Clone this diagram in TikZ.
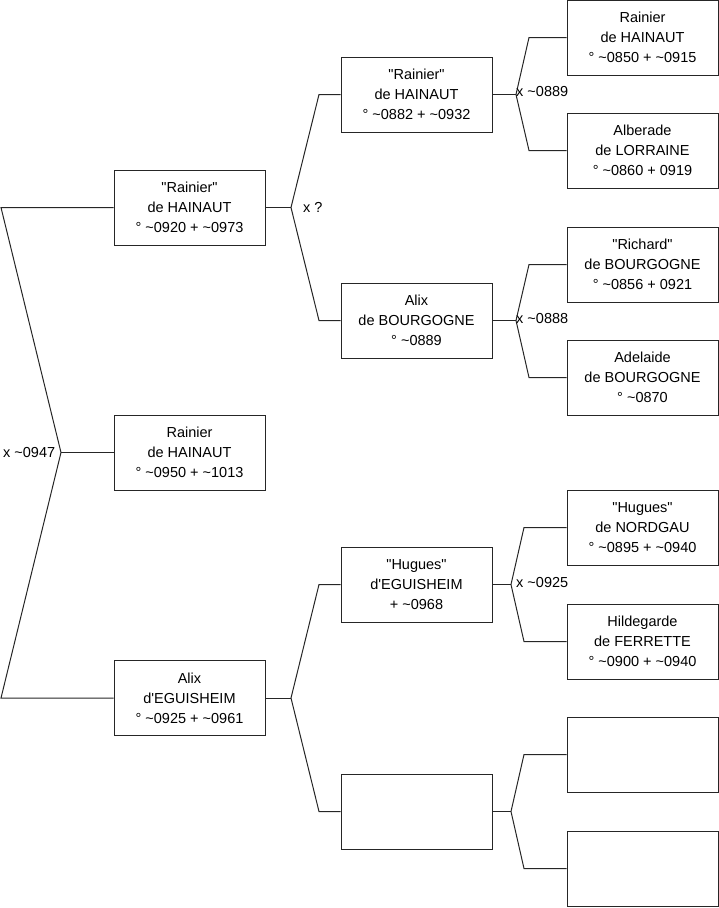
\documentclass[tikz,border=0pt]{standalone}
\usepackage{fontspec}
\setmainfont{Liberation Sans}
\usetikzlibrary{positioning}

\tikzset{
  person/.style={draw=black!85, line width=1pt, minimum width=151pt, minimum height=75pt,
    inner sep=0pt, align=center, font=\fontsize{14.5}{20}\selectfont},
  link/.style={draw=black!85, line width=1pt},
  mariage/.style={anchor=west, inner sep=0pt, font=\fontsize{14.5}{20}\selectfont}
}

\begin{document}
\begin{tikzpicture}[x=1pt, y=-1pt]

\useasboundingbox (0,0) rectangle (719,908);

%---------------------------------------
% Columns
%---------------------------------------
\def\colA{189.5}
\def\colB{416.5}
\def\colC{642.5}
\def\q{\textquotedbl}
\def\ap{\textquotesingle}

%====================================================
% Generation 1
%====================================================
\node[person] (rainierA) at (\colA,207.5) {\q Rainier\q\\de HAINAUT\\° \textasciitilde0920 + \textasciitilde0973};
\node[person] (rainierB) at (\colA,452.5) {Rainier\\de HAINAUT\\° \textasciitilde0950 + \textasciitilde1013};
\node[person] (alixA)    at (\colA,698)   {Alix\\d\ap EGUISHEIM\\° \textasciitilde0925 + \textasciitilde0961};

%====================================================
% Generation 2
%====================================================
\node[person] (rainierC) at (\colB,94.5)  {\q Rainier\q\\de HAINAUT\\° \textasciitilde0882 + \textasciitilde0932};
\node[person] (alixB)    at (\colB,320.5) {Alix\\de BOURGOGNE\\° \textasciitilde0889};
\node[person] (huguesA)  at (\colB,584.5) {\q Hugues\q\\d\ap EGUISHEIM\\+ \textasciitilde0968};
\node[person] (inconnuA) at (\colB,811.5) {};

%====================================================
% Generation 3
%====================================================
\node[person] (rainierD)   at (\colC,37.5)  {Rainier\\de HAINAUT\\° \textasciitilde0850 + \textasciitilde0915};
\node[person] (alberade)   at (\colC,150.5) {Alberade\\de LORRAINE\\° \textasciitilde0860 + 0919};
\node[person] (richard)    at (\colC,264.5) {\q Richard\q\\de BOURGOGNE\\° \textasciitilde0856 + 0921};
\node[person] (adelaide)   at (\colC,377.5) {Adelaide\\de BOURGOGNE\\° \textasciitilde0870};
\node[person] (huguesB)    at (\colC,527.5) {\q Hugues\q\\de NORDGAU\\° \textasciitilde0895 + \textasciitilde0940};
\node[person] (hildegarde) at (\colC,641.5) {Hildegarde\\de FERRETTE\\° \textasciitilde0900 + \textasciitilde0940};
\node[person] (inconnuB)   at (\colC,754.5) {};
\node[person] (inconnuC)   at (\colC,868.5) {};

%---------------------------------------
% Couple of rainierB
%---------------------------------------
\coordinate (j0) at (61,452.5);
\coordinate (t0) at (1,207.5);
\coordinate (b0) at (1,698);
\draw[link] (rainierA.west) -- (t0) -- (j0) -- (b0) -- (alixA.west);
\draw[link] (j0) -- (rainierB.west);
\node[mariage] (x0) at (3,452.5) {x \textasciitilde0947};

% ---- couple of rainierA ----
\coordinate (j1) at (291,207.5);
\coordinate (t1) at (319,94.5);
\coordinate (b1) at (319,320.5);
\draw[link] (rainierA.east) -- (j1);
\draw[link] (rainierC.west) -- (t1) -- (j1) -- (b1) -- (alixB.west);
\node[mariage] (x1) at (303,207.5) {x ?};

% ---- couple of alixA ----
\coordinate (j2) at (291,698);
\coordinate (t2) at (319,584.5);
\coordinate (b2) at (319,811.5);
\draw[link] (alixA.east) -- (j2);
\draw[link] (huguesA.west) -- (t2) -- (j2) -- (b2) -- (inconnuA.west);

% ---- couple of rainierC ----
\coordinate (j3) at (516,94.5);
\coordinate (t3) at (529,37.5);
\coordinate (b3) at (529,150.5);
\draw[link] (rainierC.east) -- (j3);
\draw[link] (rainierD.west) -- (t3) -- (j3) -- (b3) -- (alberade.west);
\node[mariage] (x3) at (516,91.5) {x \textasciitilde0889};

% ---- couple of alixB ----
\coordinate (j4) at (516,320.5);
\coordinate (t4) at (529,264.5);
\coordinate (b4) at (529,377.5);
\draw[link] (alixB.east) -- (j4);
\draw[link] (richard.west) -- (t4) -- (j4) -- (b4) -- (adelaide.west);
\node[mariage] (x4) at (516,318.5) {x \textasciitilde0888};

% ---- couple of huguesA ----
\coordinate (j5) at (511,584.5);
\coordinate (t5) at (524,527.5);
\coordinate (b5) at (524,641.5);
\draw[link] (huguesA.east) -- (j5);
\draw[link] (huguesB.west) -- (t5) -- (j5) -- (b5) -- (hildegarde.west);
\node[mariage] (x5) at (516,582.5) {x \textasciitilde0925};

% ---- couple of inconnuA ----
\coordinate (j6) at (511,811.5);
\coordinate (t6) at (524,754.5);
\coordinate (b6) at (524,868.5);
\draw[link] (inconnuA.east) -- (j6);
\draw[link] (inconnuB.west) -- (t6) -- (j6) -- (b6) -- (inconnuC.west);

\end{tikzpicture}
\end{document}
